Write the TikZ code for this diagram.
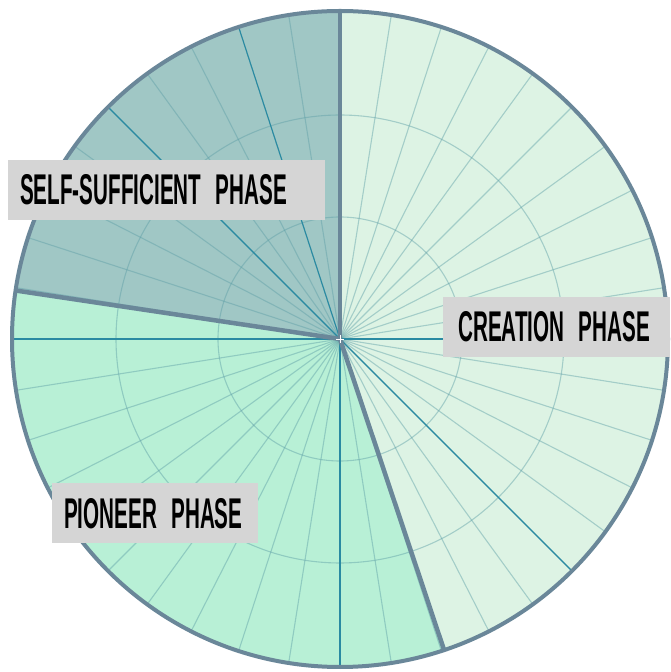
\documentclass[tikz,border=0pt]{standalone}
\usepackage{fontspec}
\newfontfamily\phasefont[FakeStretch=0.48]{Liberation Sans Bold}
\newcommand{\phasetype}{\phasefont\fontsize{43}{43}\selectfont}
\definecolor{creationfill}{HTML}{DDF3E4}
\definecolor{selffill}{HTML}{A0C7C5}
\definecolor{pioneerfill}{HTML}{B8F0D6}
\definecolor{gridcol}{HTML}{5E9FA6}
\definecolor{raycol}{HTML}{2A8AA2}
\definecolor{rim}{HTML}{6A8799}
\definecolor{labelgrey}{HTML}{D5D5D5}
\begin{document}
\begin{tikzpicture}[x=1pt,y=1pt,
        gridline/.style={gridcol, opacity=0.45, line width=1.1pt},
        darkray/.style={raycol, line width=1.1pt},
        divider/.style={rim, line width=4.5pt},
        phasebox/.style={fill=labelgrey, minimum height=60pt, align=left, anchor=north west,
            font=\phasetype}]
        \useasboundingbox[fill=white] (0,0) rectangle (670,672);
        \coordinate (C) at (340,333);
        % Phase Sectors
        \fill[creationfill] (C) -- ++(-71.5:328pt) arc[start angle=-71.5, end angle=90, radius=328pt] -- cycle;
        \fill[selffill] (C) -- ++(90:328pt) arc[start angle=90, end angle=171.5, radius=328pt] -- cycle;
        \fill[pioneerfill] (C) -- ++(171.5:328pt) arc[start angle=171.5, end angle=288.5, radius=328pt] -- cycle;
        % Polar Grid
        \foreach \r in {122pt,224pt} \draw[gridline] (C) circle[radius=\r];
        \foreach \a in {0,9,...,351} \draw[gridline] (C) -- ++(\a:328pt);
        \foreach \a in {0,108,135,180,270,315} \draw[darkray] (C) -- ++(\a:328pt);
        % Phase Borders
        \foreach \a in {90,171.5,288.5} \draw[divider] (C) -- ++(\a:328pt);
        \draw[rim, line width=4pt] (C) circle[radius=328pt];
        \draw[white, line width=0.8pt] (C) ++(-4,0) -- ++(8,0) (C) ++(0,-4) -- ++(0,8);
        % Labels
        \node[phasebox, text width=293pt, inner xsep=12pt] (self) at (8,512) {SELF-SUFFICIENT PHASE};
        \node[phasebox, text width=197pt, inner xsep=15pt] (creation) at (443,375) {CREATION PHASE};
        \node[phasebox, text width=182pt, inner xsep=12pt] (pioneer) at (52,189) {PIONEER PHASE};
\end{tikzpicture}
\end{document}
